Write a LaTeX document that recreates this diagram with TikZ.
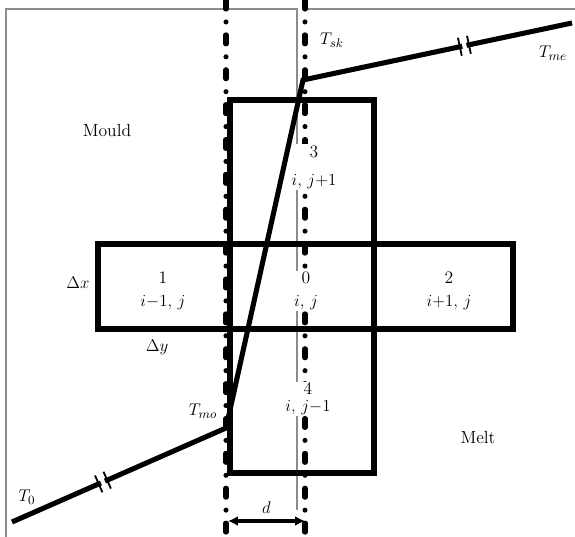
\documentclass[tikz,border=0pt]{standalone}
\usepackage{tikz}
\usepackage{xcolor}
\usetikzlibrary{arrows.meta}
\definecolor{framegray}{HTML}{8C8C8C}
\definecolor{inkblack}{HTML}{000000}

\begin{document}
\begin{tikzpicture}[x=0.025cm,y=-0.025cm,
  lbl/.style={font=\fontsize{12.5}{16}\selectfont,align=center,inner sep=1pt},
  celllbl/.style={lbl,fill=white,inner sep=1pt},
  cellbox/.style={draw=inkblack,line width=3.6pt},
  profile/.style={draw=inkblack,line width=3.6pt,line join=miter},
  chain/.style={draw=inkblack,line width=3.6pt,line cap=round,dash pattern=on 6.4pt off 9.2pt on 0pt off 9.2pt},
  thingray/.style={draw=framegray,line width=1pt},
  brk/.style={fill=white,inner sep=0pt,minimum width=3pt,minimum height=9.5pt,sloped}]
\useasboundingbox (0,0) rectangle (575,537);

% outer frame and interface line
\draw[thingray] (6,537) -- (6,9) -- (297,9) -- (297,510);
\draw[thingray] (307,9) -- (575,9);

% control volumes
\draw[cellbox] (230,100) rectangle (374,473);
\draw[cellbox] (98,244) rectangle (513,329);

% mould wall / shell edges
\draw[chain] (226,0) -- (226,537);
\draw[chain] (305,0) -- (305,537);

% cell numbers
\node[celllbl] (c1) at (163,291) {1\\$i{-}1,\,j$};
\node[celllbl] (c0) at (306,291) {0\\$i,\,j$};
\node[celllbl] (c2) at (449,291) {2\\$i{+}1,\,j$};
\node[celllbl] (c3) at (314,167) {3\\[4pt]$i,\,j{+}1$};
\node[celllbl] (c4) at (308,399) {4\\[-4pt]$i,\,j{-}1$};

% temperature profile
\coordinate (T0) at (12,522);
\coordinate (Tmo) at (226,428);
\coordinate (Tsk) at (303,80);
\coordinate (Tme) at (572,23);
\draw[profile] (T0) -- node[brk,pos=0.425] (b1) {} (Tmo) -- (Tsk) -- node[brk,pos=0.6] (b2) {} (Tme);
\draw[line width=1.3pt] (b1.north west) -- (b1.south west) (b1.north east) -- (b1.south east);
\draw[line width=1.3pt] (b2.north west) -- (b2.south west) (b2.north east) -- (b2.south east);

% labels
\node[lbl] (mould) at (107,130) {Mould};
\node[lbl] (melt) at (478,437) {Melt};
\node[lbl] (lT0) at (27,497) {$T_0$};
\node[lbl] (lTmo) at (203,411) {$T_{mo}$};
\node[lbl] (lTsk) at (332,40) {$T_{sk}$};
\node[lbl] (lTme) at (553,53) {$T_{me}$};
\node[lbl] (ldx) at (78,283) {$\Delta x$};
\node[lbl] (ldy) at (157,347) {$\Delta y$};

% thickness d
\coordinate (dl) at (228,521);
\coordinate (dr) at (305,521);
\draw[line width=2.6pt,{Latex[length=7pt,width=7pt]}-{Latex[length=7pt,width=7pt]}] (dl) -- node[lbl,above=3pt] (ld) {$d$} (dr);
\end{tikzpicture}
\end{document}
